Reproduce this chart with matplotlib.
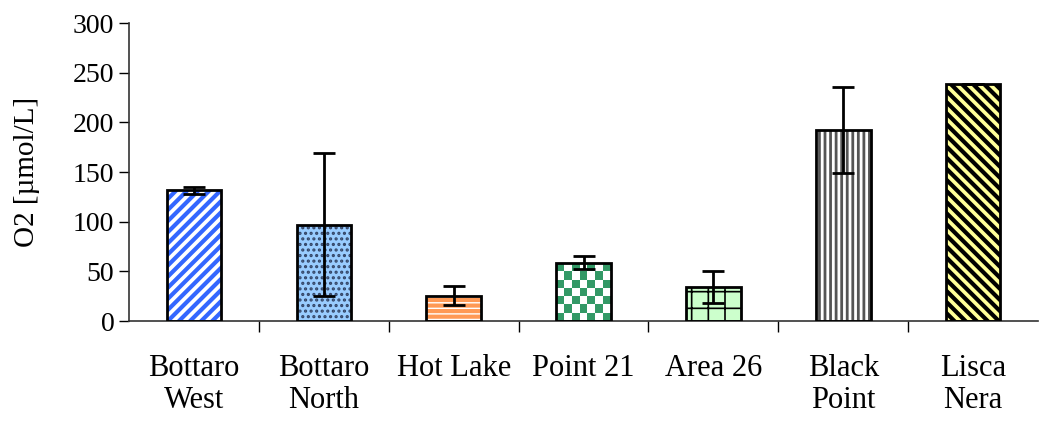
import numpy as np
import matplotlib.pyplot as plt

plt.rcParams['font.family'] = ['Liberation Serif', 'DejaVu Serif']

sites = ['Bottaro\nWest', 'Bottaro\nNorth', 'Hot Lake', 'Point 21', 'Area 26', 'Black\nPoint', 'Lisca\nNera']
o2 = [132, 97, 25, 58, 34, 192, 239]
err_low = [4, 72, 9, 6, 16, 43, 0]
err_high = [3, 72, 10, 7, 16, 44, 0]

face_colors = ['white', '#99ccff', '#ff9955', 'white', '#ccffcc', 'white', '#ffff99']
hatch_colors = ['#3366ff', '#334466', 'white', '#339966', 'black', '#555555', 'black']
hatches = ['///', '...', '---', None, '+', '|||', '\\\\\\']
hatch_widths = [3.0, 1.5, 1.0, 1.0, 1.2, 2.0, 3.0]

fig = plt.figure(figsize=(10.54, 4.21), dpi=100)
ax = fig.add_axes([0.1224, 0.2375, 0.8625, 0.7078])

x = np.arange(len(sites))
width = 0.42

for i in range(len(sites)):
    b = ax.bar(x[i], o2[i], width, color=face_colors[i], edgecolor=hatch_colors[i],
               hatch=hatches[i], linewidth=0, zorder=2)[0]
    if hasattr(b, 'set_hatch_linewidth'):
        b.set_hatch_linewidth(hatch_widths[i])
    if hatches[i] is None:
        # checkerboard fill clipped to the bar
        n_rows = int(round(o2[i] / 8))
        board = np.indices((n_rows, 7)).sum(axis=0) % 2
        img = ax.imshow(board, cmap=plt.matplotlib.colors.ListedColormap(['#339966', 'white']),
                        extent=[b.get_x(), b.get_x() + b.get_width(), 0, b.get_height()],
                        aspect='auto', interpolation='nearest', zorder=2)
        img.set_clip_path(b)

ax.bar(x, o2, width, fill=False, edgecolor='black', linewidth=2, zorder=3)
ax.errorbar(x, o2, yerr=[err_low, err_high], fmt='none', ecolor='black',
            elinewidth=2, capsize=8, capthick=2, zorder=4)

ax.set_xlim(-0.5, len(sites) - 0.5)
ax.set_ylim(0, 300)
ax.set_yticks(np.arange(0, 301, 50))
ax.set_ylabel('O2 [µmol/L]', fontsize=21, labelpad=24)
ax.tick_params(axis='y', labelsize=20, length=7, width=1, direction='out')

ax.set_xticks(x)
ax.set_xticklabels(sites, fontsize=22, linespacing=1.1)
ax.tick_params(axis='x', length=0, pad=24)
ax.set_xticks(np.arange(-0.5, len(sites) - 0.5 + 1e-9, 1)[1:-1], minor=True)
ax.tick_params(axis='x', which='minor', length=8, width=1, direction='out')

for side in ['top', 'right']:
    ax.spines[side].set_visible(False)
for side in ['left', 'bottom']:
    ax.spines[side].set_color('#333333')
    ax.spines[side].set_linewidth(1.2)

fig.savefig('out.png', dpi=100)
